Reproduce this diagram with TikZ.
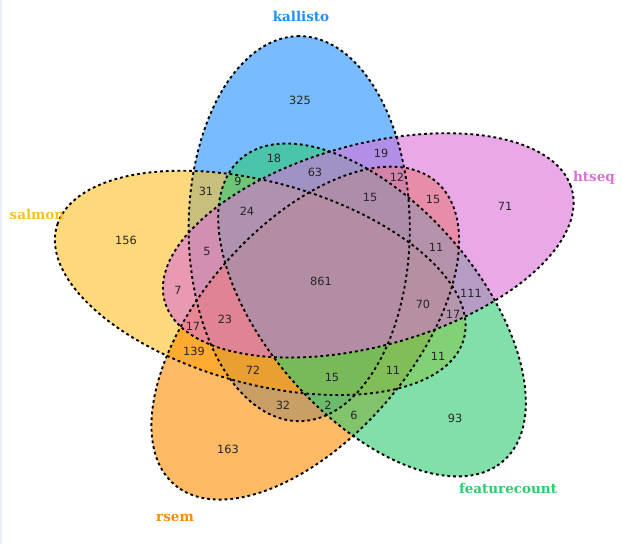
\documentclass[tikz,border=0pt]{standalone}
\usepackage{fontspec}
\setmainfont{DejaVu Sans}
\newfontfamily\setnamefont{DejaVu Serif}
\definecolor{kallistoC}{RGB}{30,144,255}
\definecolor{salmonC}{RGB}{255,193,37}
\definecolor{htseqC}{RGB}{218,112,214}
\definecolor{featurecountC}{RGB}{46,204,113}
\definecolor{rsemC}{RGB}{255,140,0}
\definecolor{edgestrip}{RGB}{234,239,246}
% One petal of the five-set diagram: an ellipse whose axis points at
% angle #1, placed on a ring around (321,280) and widened horizontally.
\newcommand\petalpath[1]{plot[domain=0:358,samples=180,variable=\t]
  ({321+1.106*(55*cos(#1+21)+192.5*cos(\t)*cos(#1)-100*sin(\t)*sin(#1))},
   {280-(55*sin(#1+21)+192.5*cos(\t)*sin(#1)+100*sin(\t)*cos(#1))}) -- cycle}
\begin{document}
\begin{tikzpicture}[x=1pt,y=-1pt,
  petalfill/.style={fill=#1,fill opacity=0.6,draw=none},
  petaledge/.style={draw=black,line width=1.9pt,dash pattern=on 2.8pt off 3pt},
  count/.style={font=\fontsize{11.3}{13}\selectfont,text=black!85,inner sep=0pt},
  setname/.style={font=\setnamefont\bfseries\fontsize{13.5}{15}\selectfont,text=#1,inner sep=0pt}]
\useasboundingbox (0,0) rectangle (622,544);
\fill[white] (0,0) rectangle (622,544);
\fill[edgestrip] (0,0) rectangle (2,544);
% filled petals, in stacking order
\fill[petalfill=kallistoC] \petalpath{90};
\fill[petalfill=salmonC] \petalpath{162};
\fill[petalfill=rsemC] \petalpath{234};
\fill[petalfill=featurecountC] \petalpath{306};
\fill[petalfill=htseqC] \petalpath{18};
% dotted outlines on top
\foreach \a in {90,162,234,306,18} \draw[petaledge] \petalpath{\a};
% set names
\node[setname=kallistoC] (lk) at (301,16) {kallisto};
\node[setname=htseqC] (lh) at (594,178) {htseq};
\node[setname=featurecountC] (lf) at (508,488) {featurecount};
\node[setname=rsemC] (lr) at (175,518) {rsem};
\node[setname=salmonC] (ls) at (37,214) {salmon};
% region counts
\node[count] (c325) at (300,100) {325};
\node[count] (c18) at (274,158) {18};
\node[count] (c19) at (381,153) {19};
\node[count] (c63) at (315,172) {63};
\node[count] (c12) at (397,177) {12};
\node[count] (c9) at (238,181) {9};
\node[count] (c31) at (206,191) {31};
\node[count] (c15a) at (370,197) {15};
\node[count] (c15b) at (433,199) {15};
\node[count] (c24) at (247,211) {24};
\node[count] (c156) at (126,240) {156};
\node[count] (c71) at (505,206) {71};
\node[count] (c5) at (207,251) {5};
\node[count] (c11a) at (436,247) {11};
\node[count] (c861) at (321,281) {861};
\node[count] (c7) at (178,290) {7};
\node[count] (c70) at (423,304) {70};
\node[count] (c111) at (471,293) {111};
\node[count] (c17a) at (453,314) {17};
\node[count] (c23) at (225,319) {23};
\node[count] (c17b) at (193,326) {17};
\node[count] (c139) at (194,351) {139};
\node[count] (c72) at (253,370) {72};
\node[count] (c15c) at (332,377) {15};
\node[count] (c11b) at (393,370) {11};
\node[count] (c11c) at (438,356) {11};
\node[count] (c32) at (283,405) {32};
\node[count] (c2) at (328,405) {2};
\node[count] (c6) at (354,415) {6};
\node[count] (c93) at (455,418) {93};
\node[count] (c163) at (228,449) {163};
\end{tikzpicture}
\end{document}
